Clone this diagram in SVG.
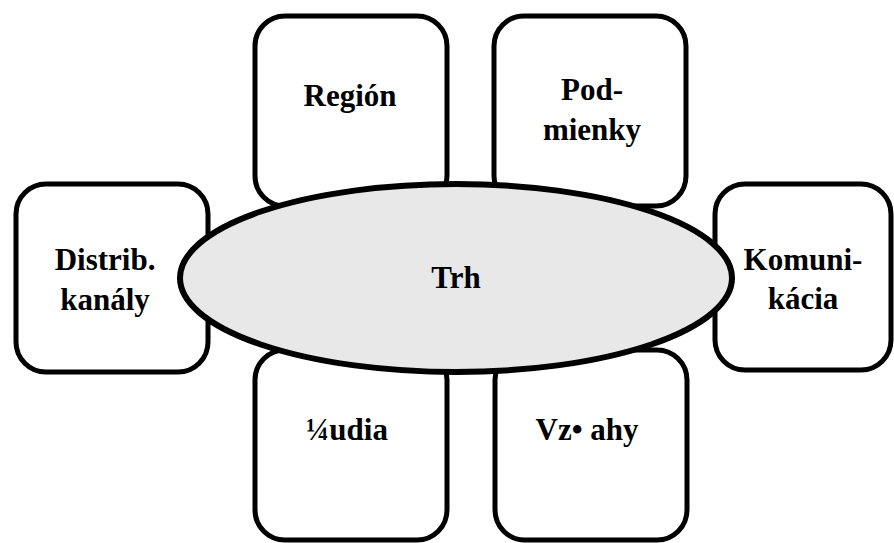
<svg xmlns="http://www.w3.org/2000/svg" width="894" height="543" viewBox="0 0 894 543">
<style>
.box{fill:#fff;stroke:#000;stroke-width:5}
.ell{fill:#e8e8e8;stroke:#000;stroke-width:6}
.t{font-weight:bold;font-size:31px;fill:#000;text-anchor:middle}
</style>
<rect width="894" height="543" fill="#fff"/>
<g id="connectors"></g>
<g font-family="Liberation Serif, Tinos, Times New Roman, DejaVu Serif, serif">
<g id="region"><rect class="box" x="255" y="16" width="192" height="190" rx="30"/><text class="t" x="350" y="106">Región</text></g>
<g id="podmienky"><rect class="box" x="494" y="16" width="192" height="190" rx="30"/><text class="t" x="592" y="100">Pod-</text><text class="t" x="592" y="140">mienky</text></g>
<g id="distrib"><rect class="box" x="16" y="184" width="192" height="188" rx="30"/><text class="t" x="105" y="270">Distrib.</text><text class="t" x="105" y="310">kanály</text></g>
<g id="komunikacia"><rect class="box" x="715" y="184" width="176" height="186" rx="30"/><text class="t" x="803" y="270">Komuni-</text><text class="t" x="803" y="309">kácia</text></g>
<g id="ludia"><rect class="box" x="255" y="350" width="192" height="190" rx="30"/><text class="t" x="347" y="440">¼udia</text></g>
<g id="vztahy"><rect class="box" x="495" y="350" width="192" height="190" rx="30"/><text class="t" x="587" y="440">Vz• ahy</text></g>
<g id="trh"><ellipse class="ell" cx="456" cy="278" rx="276" ry="94"/><text class="t" x="456" y="288">Trh</text></g>
</g>
</svg>
